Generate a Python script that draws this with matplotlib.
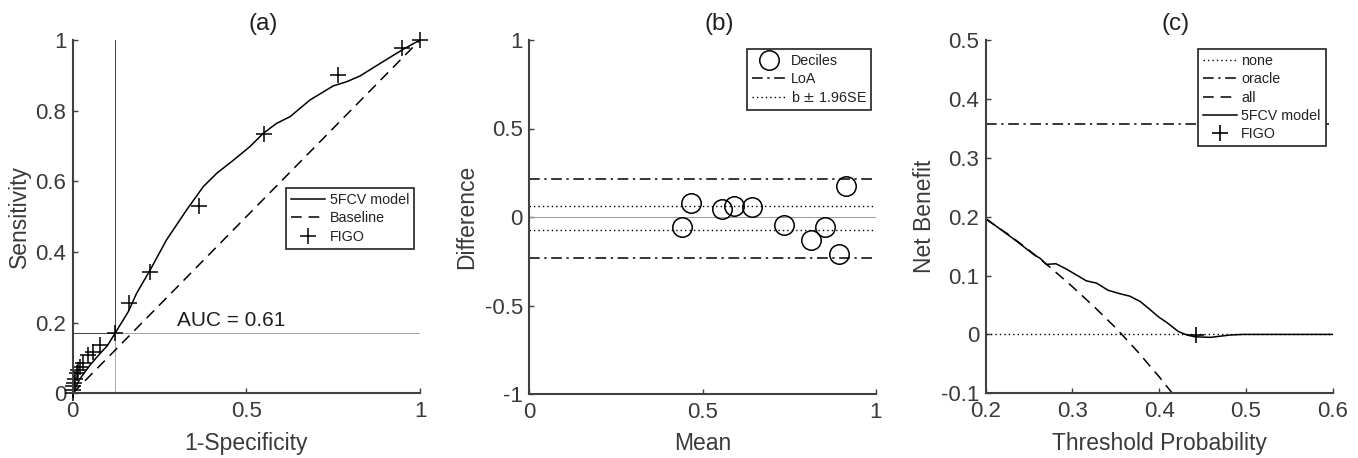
import matplotlib
matplotlib.use("Agg")
import matplotlib.pyplot as plt

plt.rcParams['font.family'] = ['Liberation Sans', 'DejaVu Sans']

# ---------------- data ----------------
# (a) ROC
roc_fpr = [0.0, 0.02, 0.05, 0.079, 0.1, 0.122, 0.16, 0.184, 0.223, 0.27, 0.328, 0.376,
           0.415, 0.463, 0.51, 0.549, 0.587, 0.626, 0.683, 0.75, 0.789, 0.827, 0.894, 0.952, 1.0]
roc_tpr = [0.0, 0.04, 0.08, 0.113, 0.135, 0.17, 0.231, 0.283, 0.349, 0.434, 0.519, 0.585,
           0.623, 0.66, 0.698, 0.736, 0.764, 0.783, 0.83, 0.87, 0.882, 0.898, 0.939, 0.974, 1.0]
base_x = [0.0, 1.0]
base_y = [0.0, 1.0]
figo_fpr = [0.0, 0.0, 0.002, 0.005, 0.008, 0.012, 0.016, 0.021, 0.031, 0.045, 0.059, 0.079,
            0.122, 0.162, 0.223, 0.364, 0.552, 0.765, 0.949, 1.0]
figo_tpr = [0.0, 0.01, 0.02, 0.03, 0.04, 0.057, 0.066, 0.075, 0.085, 0.108, 0.117, 0.137,
            0.17, 0.255, 0.342, 0.53, 0.734, 0.901, 0.978, 1.0]
cut_x = 0.122
cut_y = 0.17
auc_text = "AUC = 0.61"

# (b) Bland-Altman
dec_mean = [0.44, 0.467, 0.555, 0.592, 0.643, 0.734, 0.813, 0.853, 0.894, 0.914]
dec_diff = [-0.058, 0.079, 0.047, 0.064, 0.055, -0.043, -0.132, -0.055, -0.21, 0.177]
loa = [0.216, -0.229]
b_ci = [0.064, -0.076]

# (c) Decision curve
thr_none = [0.2, 0.6]
nb_none = [0.0, 0.0]
nb_oracle = [0.357, 0.357]
thr_all = [0.2, 0.225, 0.25, 0.275, 0.3, 0.325, 0.35, 0.375, 0.4, 0.42]
nb_all = [0.196, 0.171, 0.143, 0.113, 0.081, 0.047, 0.011, -0.029, -0.072, -0.109]
thr_model = [0.2, 0.2165, 0.236, 0.255, 0.263, 0.27, 0.281, 0.293, 0.316, 0.328, 0.341,
             0.355, 0.366, 0.378, 0.388, 0.399, 0.409, 0.422, 0.432, 0.441, 0.459, 0.482,
             0.497, 0.6]
nb_model = [0.197, 0.179, 0.158, 0.136, 0.129, 0.119, 0.12, 0.111, 0.091, 0.087, 0.075,
            0.069, 0.065, 0.056, 0.044, 0.030, 0.020, 0.005, -0.001, -0.004, -0.005, -0.001,
            0.0, 0.0]
figo_thr = [0.442]
figo_nb = [-0.001]

# ---------------- style ----------------
AX = '#404040'
TXT = '#3a3a3a'
TICK_FS = 16
LAB_FS = 16.5
TITLE_FS = 17.5
LEG_FS = 10.3
DASH = (7, 4.5)
DASHDOT = (7, 3, 1.5, 3)
DOT = (1, 2.2)

fig = plt.figure(figsize=(13.58, 4.58), dpi=100)
W, H = 1358, 458


def make_ax(left_px, right_px, top_px=40, bottom_px=393.3):
    return fig.add_axes([left_px / W, 1 - bottom_px / H,
                         (right_px - left_px) / W, (bottom_px - top_px) / H])


def style(ax, title, xlabel, ylabel, xt, xtl, yt, ytl, ylab_x):
    for s in ['top', 'right']:
        ax.spines[s].set_visible(False)
    for s in ['left', 'bottom']:
        ax.spines[s].set_color(AX)
        ax.spines[s].set_linewidth(1.5)
    ax.set_xticks(xt)
    ax.set_xticklabels(xtl)
    ax.set_yticks(yt)
    ax.set_yticklabels(ytl)
    ax.tick_params(direction='in', length=3.5, width=1, colors=AX, labelsize=TICK_FS,
                   labelcolor=TXT)
    ax.tick_params(axis='x', pad=5.5)
    ax.tick_params(axis='y', pad=4.5)
    ax.set_xlabel(xlabel, fontsize=LAB_FS, color=TXT)
    ax.set_ylabel(ylabel, fontsize=LAB_FS, color=TXT)
    ax.xaxis.set_label_coords(0.5, -0.141)
    ax.xaxis.label.set_verticalalignment('center')
    ax.yaxis.set_label_coords(ylab_x, 0.5)
    ax.yaxis.label.set_verticalalignment('center')
    ax.text(0.548, 1.045, title, transform=ax.transAxes, ha='center', va='center',
            fontsize=TITLE_FS, color='#202020')


def legend(ax, x, y):
    leg = ax.legend(loc='upper left', bbox_to_anchor=(x, y), borderaxespad=0,
                    fontsize=LEG_FS, frameon=True, fancybox=False, framealpha=1,
                    edgecolor='#333333', handlelength=2.4, handletextpad=0.3,
                    labelspacing=0.3, borderpad=0.35)
    leg.get_frame().set_linewidth(1.3)
    for t in leg.get_texts():
        t.set_color('#222222')
    return leg


# ---------------- (a) ----------------
axa = make_ax(72.7, 420)
axa.set_xlim(0, 1)
axa.set_ylim(0, 1)
axa.plot([0, cut_x], [cut_y, cut_y], color='#222222', lw=0.6)
axa.plot([cut_x, cut_x], [cut_y, 1], color='#222222', lw=0.6)
axa.plot([cut_x, cut_x], [0, cut_y], color='#999999', lw=0.6)
axa.plot([cut_x, 1], [cut_y, cut_y], color='#999999', lw=0.6)
axa.plot(roc_fpr, roc_tpr, color='black', lw=1.1, label='5FCV model')
axa.plot(base_x, base_y, color='black', lw=1.1, dashes=DASH, label='Baseline')
axa.plot(figo_fpr, figo_tpr, ls='none', marker='+', ms=11, mew=1.1, color='black',
         label='FIGO', clip_on=False)
axa.text(0.3, 0.178, auc_text, fontsize=15, color='#202020', ha='left', va='bottom')
style(axa, '(a)', '1-Specificity', 'Sensitivity',
      [0, 0.5, 1], ['0', '0.5', '1'],
      [0, 0.2, 0.4, 0.6, 0.8, 1], ['0', '0.2', '0.4', '0.6', '0.8', '1'], -0.152)
legend(axa, 0.614, 0.581)

# ---------------- (b) ----------------
axb = make_ax(529, 876, 40, 394)
axb.set_xlim(0, 1)
axb.set_ylim(-1, 1)
axb.axhline(0, color='#999999', lw=0.7)
axb.plot(dec_mean, dec_diff, ls='none', marker='o', ms=14, mfc='none', mec='black',
         mew=1.1, label='Deciles')
axb.plot([0, 1], [loa[0], loa[0]], color='black', lw=1.1, dashes=DASHDOT, label='LoA')
axb.plot([0, 1], [loa[1], loa[1]], color='black', lw=1.1, dashes=DASHDOT)
axb.plot([0, 1], [b_ci[0], b_ci[0]], color='black', lw=1.0, dashes=DOT,
         label='b $\\pm$ 1.96SE')
axb.plot([0, 1], [b_ci[1], b_ci[1]], color='black', lw=1.0, dashes=DOT)
style(axb, '(b)', 'Mean', 'Difference',
      [0, 0.5, 1], ['0', '0.5', '1'],
      [-1, -0.5, 0, 0.5, 1], ['-1', '-0.5', '0', '0.5', '1'], -0.179)
legend(axb, 0.628, 0.975)

# ---------------- (c) ----------------
axc = make_ax(985.7, 1332.7)
axc.set_xlim(0.2, 0.6)
axc.set_ylim(-0.1, 0.5)
axc.plot(thr_none, nb_none, color='black', lw=1.0, dashes=DOT, label='none')
axc.plot(thr_none, nb_oracle, color='black', lw=1.1, dashes=DASHDOT, label='oracle')
axc.plot(thr_all, nb_all, color='black', lw=1.1, dashes=DASH, label='all')
axc.plot(thr_model, nb_model, color='black', lw=1.1, label='5FCV model')
axc.plot(figo_thr, figo_nb, ls='none', marker='+', ms=12, mew=1.2, color='black',
         label='FIGO')
style(axc, '(c)', 'Threshold Probability', 'Net Benefit',
      [0.2, 0.3, 0.4, 0.5, 0.6], ['0.2', '0.3', '0.4', '0.5', '0.6'],
      [-0.1, 0, 0.1, 0.2, 0.3, 0.4, 0.5], ['-0.1', '0', '0.1', '0.2', '0.3', '0.4', '0.5'],
      -0.175)
legend(axc, 0.611, 0.974)

fig.savefig('out.png', dpi=100)
